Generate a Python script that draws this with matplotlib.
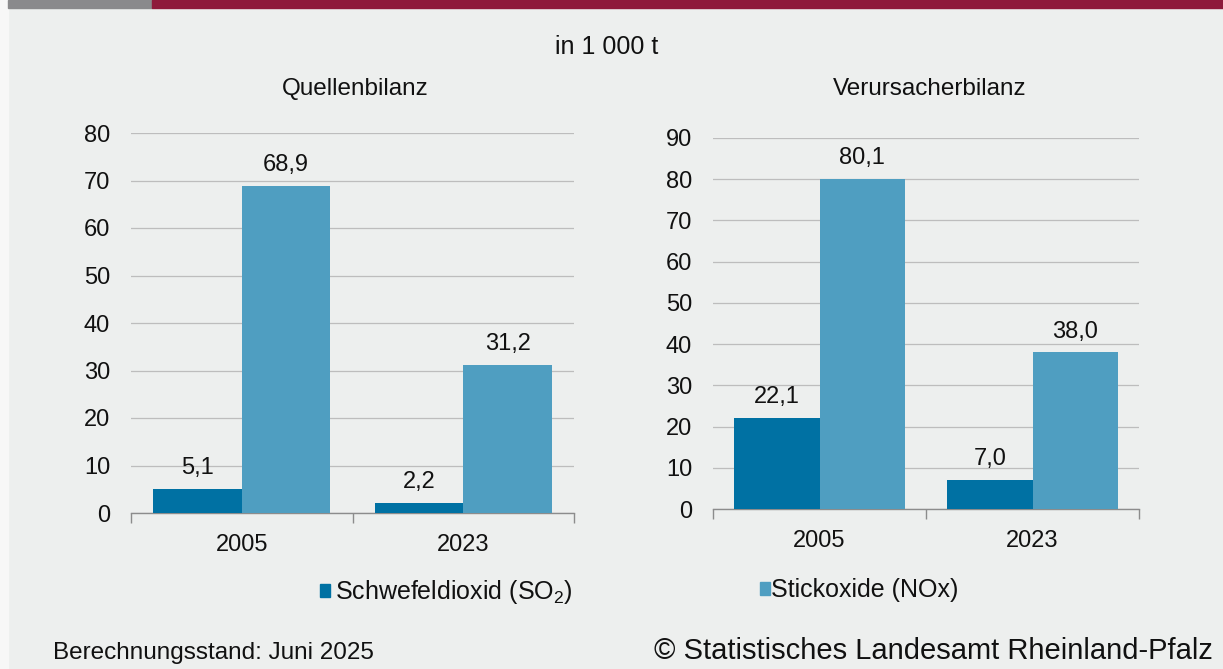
import matplotlib.pyplot as plt
import numpy as np
from matplotlib.patches import Rectangle, Patch

# Data (in 1 000 t)
years = ["2005", "2023"]
quellen_so2 = [5.1, 2.2]
quellen_nox = [68.9, 31.2]
verursacher_so2 = [22.1, 7.0]
verursacher_nox = [80.1, 38.0]
series_labels = ["Schwefeldioxid (SO$_2$)", "Stickoxide (NOx)"]

dark_blue = "#0071A3"
light_blue = "#4F9EC1"
bg = "#EDEFEE"
txt = "#111111"

plt.rcParams["font.family"] = ["Liberation Sans", "DejaVu Sans"]
plt.rcParams["mathtext.fontset"] = "custom"
plt.rcParams["mathtext.rm"] = "Liberation Sans"
plt.rcParams["mathtext.it"] = "Liberation Sans"

W, H = 1223, 669
fig = plt.figure(figsize=(W / 100, H / 100), dpi=100, facecolor=bg)

# Top band and left strip
fig.patches.append(Rectangle((0, 0), 8 / W, 1, transform=fig.transFigure, color="#F7F7F7", zorder=0))
fig.patches.append(Rectangle((8 / W, 1 - 8 / H), 144 / W, 8 / H, transform=fig.transFigure, color="#8A8A8C", zorder=1))
fig.patches.append(Rectangle((152 / W, 1 - 8 / H), 1 - 152 / W, 8 / H, transform=fig.transFigure, color="#8E1A3B", zorder=1))


def px_axes(x0, x1, y_top, y_bottom):
    return fig.add_axes([x0 / W, 1 - y_bottom / H, (x1 - x0) / W, (y_bottom - y_top) / H])


def draw_panel(ax, so2, nox, ymax, step, title, title_x):
    width = 0.4
    ax.set_facecolor(bg)
    x = np.arange(len(years))
    b1 = ax.bar(x - width / 2, so2, width, color=dark_blue, zorder=3)
    b2 = ax.bar(x + width / 2, nox, width, color=light_blue, zorder=3)
    for bars, vals in ((b1, so2), (b2, nox)):
        for bar, v in zip(bars, vals):
            ax.annotate(f"{v:.1f}".replace(".", ","),
                        (bar.get_x() + bar.get_width() / 2, v),
                        xytext=(0, 7), textcoords="offset points",
                        ha="center", va="bottom", fontsize=17, color=txt)
    ax.set_xlim(-0.5, len(years) - 0.5)
    ax.set_ylim(0, ymax)
    ax.set_yticks(np.arange(0, ymax + 1, step))
    ax.yaxis.grid(True, color="#BDBDBD", linewidth=0.9, zorder=0)
    ax.set_axisbelow(True)
    for s in ("top", "right", "left"):
        ax.spines[s].set_visible(False)
    ax.spines["bottom"].set_color("#8C8C8C")
    ax.spines["bottom"].set_linewidth(1.0)
    ax.tick_params(axis="y", length=0, pad=15, labelsize=17, labelcolor=txt)
    ax.set_xticks(x)
    ax.set_xticklabels(years)
    ax.tick_params(axis="x", length=0, pad=15, labelsize=17, labelcolor=txt)
    # category separator ticks
    ax.set_xticks(np.arange(-0.5, len(years)), minor=True)
    ax.tick_params(axis="x", which="minor", length=7, color="#8C8C8C", width=1.0)
    fig.text(title_x / W, 1 - 89 / H, title, ha="center", va="center", fontsize=17.5, color=txt)


ax1 = px_axes(131, 574, 133, 513)
draw_panel(ax1, quellen_so2, quellen_nox, 80, 10, "Quellenbilanz", 355)

ax2 = px_axes(713, 1139, 138, 509)
draw_panel(ax2, verursacher_so2, verursacher_nox, 90, 10, "Verursacherbilanz", 930)

fig.text(607 / W, 1 - 47 / H, "in 1 000 t", ha="center", va="center", fontsize=18, color=txt)

# Legend entries
leg1 = fig.legend(handles=[Patch(color=dark_blue)], labels=[series_labels[0]],
                  loc="center left", bbox_to_anchor=(297 / W, 1 - 592 / H), frameon=False,
                  handlelength=0.42, handleheight=0.42, handletextpad=0.2, fontsize=18,
                  labelcolor=txt)
leg2 = fig.legend(handles=[Patch(color=light_blue)], labels=[series_labels[1]],
                  loc="center left", bbox_to_anchor=(737 / W, 1 - 590 / H), frameon=False,
                  handlelength=0.42, handleheight=0.42, handletextpad=0.05, fontsize=18,
                  labelcolor=txt)

# Footer
fig.text(53 / W, 1 - 653 / H, "Berechnungsstand: Juni 2025", ha="left", va="center",
         fontsize=17.5, color=txt)
fig.text(1213 / W, 1 - 651 / H, "\u00a9 Statistisches Landesamt Rheinland-Pfalz", ha="right", va="center",
         fontsize=21, color=txt)

fig.savefig("out.png", dpi=100, facecolor=bg)
